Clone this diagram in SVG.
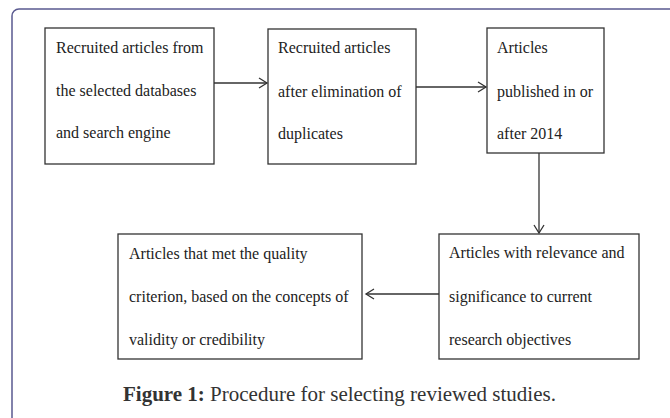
<svg xmlns="http://www.w3.org/2000/svg" width="670" height="418" viewBox="0 0 670 418">
<style>
.box{fill:#fff;stroke:#333;stroke-width:1.3}
.t{font-family:"Liberation Serif","Times New Roman",serif;font-size:16px;fill:#222}
.cap{font-family:"Liberation Serif","Times New Roman",serif;font-size:21px;fill:#333}
.conn{stroke:#333;stroke-width:1.3;fill:none}
</style>
<defs>
<marker id="arr" markerWidth="12" markerHeight="12" refX="9" refY="6" orient="auto" markerUnits="userSpaceOnUse">
<path d="M1,1 L9,6 L1,11" fill="none" stroke="#333" stroke-width="1.3"/>
</marker>
</defs>
<rect width="670" height="418" fill="#fff"/>
<rect x="12" y="9" width="680" height="440" rx="7" fill="none" stroke="#5a5a90" stroke-width="1.5"/>
<g id="n1">
<rect class="box" x="45" y="28" width="169" height="136"/>
<text class="t" x="56" y="53">Recruited articles  from</text>
<text class="t" x="56" y="96">the selected  databases</text>
<text class="t" x="56" y="138">and search engine</text>
</g>
<g id="n2">
<rect class="box" x="268" y="29" width="148" height="135"/>
<text class="t" x="278" y="53">Recruited articles</text>
<text class="t" x="278" y="97">after elimination  of</text>
<text class="t" x="278" y="139">duplicates</text>
</g>
<g id="n3">
<rect class="box" x="487" y="28" width="117" height="125"/>
<text class="t" x="497" y="53">Articles</text>
<text class="t" x="497" y="97">published in or</text>
<text class="t" x="497" y="139">after 2014</text>
</g>
<g id="n4">
<rect class="box" x="439" y="234" width="200" height="125"/>
<text class="t" x="449" y="258">Articles with relevance  and</text>
<text class="t" x="449" y="302">significance to current</text>
<text class="t" x="449" y="345">research objectives</text>
</g>
<g id="n5">
<rect class="box" x="118" y="234" width="244" height="125"/>
<text class="t" x="129" y="259">Articles  that met the quality</text>
<text class="t" x="129" y="302">criterion,  based on the concepts  of</text>
<text class="t" x="129" y="345">validity  or credibility</text>
</g>
<g id="connectors">
<line class="conn" x1="214" y1="83" x2="267" y2="83" marker-end="url(#arr)"/>
<line class="conn" x1="416" y1="87" x2="486" y2="87" marker-end="url(#arr)"/>
<line class="conn" x1="539" y1="153" x2="539" y2="233" marker-end="url(#arr)"/>
<line class="conn" x1="439" y1="294" x2="366" y2="294" marker-end="url(#arr)"/>
</g>
<text class="cap" x="123" y="401"><tspan font-weight="bold">Figure 1:</tspan> Procedure for selecting reviewed studies.</text>
</svg>
